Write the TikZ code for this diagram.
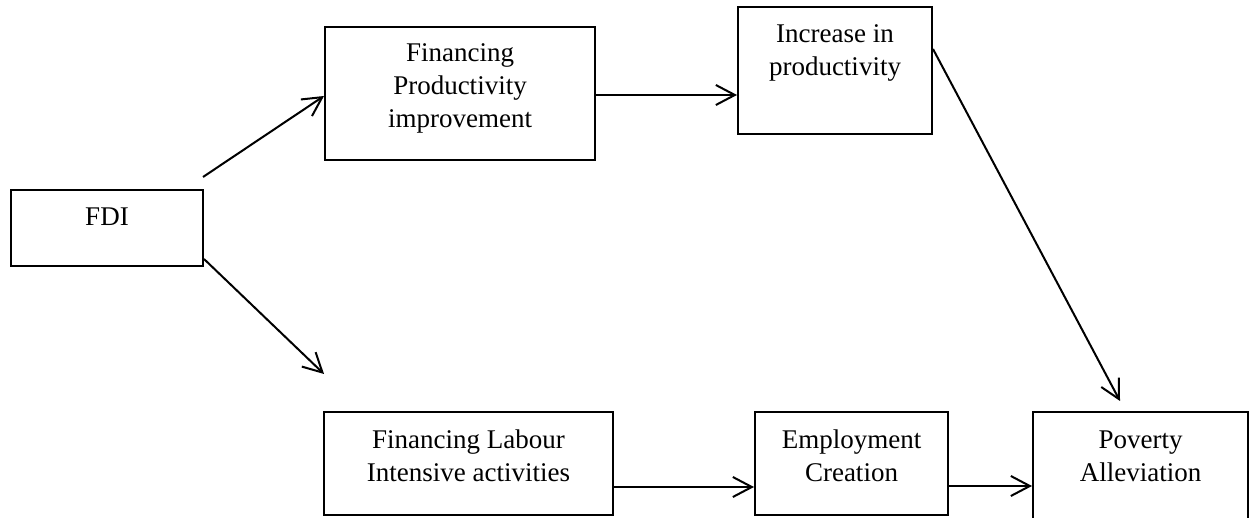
\documentclass[tikz,border=0pt]{standalone}
\usepackage{fontspec}
\setmainfont{Liberation Serif}
\usetikzlibrary{arrows.meta,calc}
\begin{document}
\begin{tikzpicture}[x=0.5pt,y=-0.5pt,
  box/.style={draw, line width=1pt, inner sep=0pt},
  txt/.style={align=center, font=\fontsize{13.5}{16.5}\selectfont, inner sep=0pt},
  arr/.style={line width=1pt, -{Straight Barb[length=9.5pt,width=10pt,line width=1pt]}}]
\useasboundingbox (0,0) rectangle (1249,518);
% boxes
\node[box, minimum width=96pt, minimum height=38pt] (fdi) at (107,228) {};
\node[box, minimum width=135pt, minimum height=66.5pt] (fpi) at (460,93.5) {};
\node[box, minimum width=97pt, minimum height=63.5pt] (inc) at (835,70.5) {};
\node[box, minimum width=144.5pt, minimum height=51.5pt] (lab) at (468.5,463.5) {};
\node[box, minimum width=96.5pt, minimum height=51.5pt] (emp) at (851.5,463.5) {};
\node[box, minimum width=107.5pt, minimum height=59pt] (pov) at (1140.5,471) {};
% texts
\node[txt] (tfdi) at (107,217) {FDI};
\node[txt] (tfpi) at (460,88) {Financing\\Productivity\\improvement};
\node[txt] (tinc) at (835,53) {Increase in\\productivity};
\node[txt] (tlab) at (468.5,456) {Financing Labour\\Intensive activities};
\node[txt] (temp) at (851.5,456) {Employment\\Creation};
\node[txt] (tpov) at (1140.5,456) {Poverty\\Alleviation};
% free ends
\coordinate (s1) at (203,177);
\coordinate (s2) at ($(fdi.south east)+(0,-8)$);
\coordinate (e2) at (324,374);
\coordinate (s4) at ($(inc.north east)+(0,43)$);
\coordinate (e4) at (1120,401);
\coordinate (s3) at ($(fpi.east)+(0,1.5)$);
\coordinate (s5) at ($(lab.east)+(0,23.5)$);
\coordinate (s6) at ($(emp.east)+(0,22.5)$);
% connectors
\draw[arr] (s1) -- ($(fpi.west)+(0,2.5)$);
\draw[arr] (s2) -- (e2);
\draw[arr] (s3) -- (s3 -| inc.west);
\draw[arr] (s4) -- (e4);
\draw[arr] (s5) -- (s5 -| emp.west);
\draw[arr] (s6) -- (s6 -| pov.west);
\end{tikzpicture}
\end{document}
